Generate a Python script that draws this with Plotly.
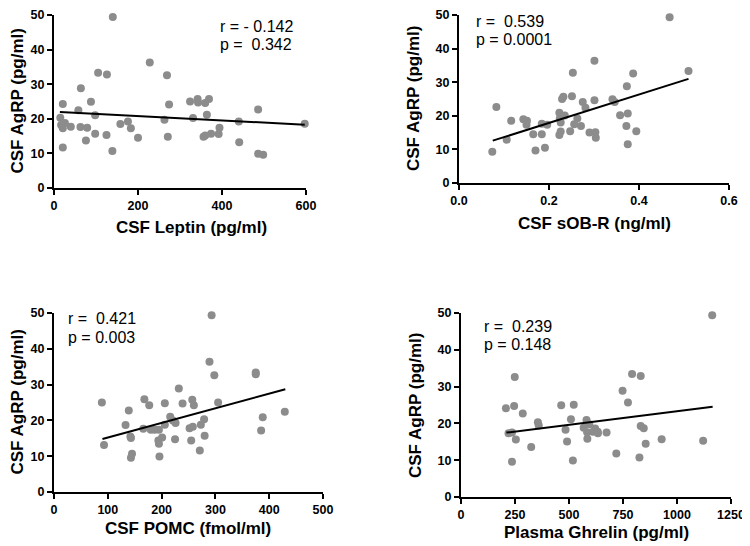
import plotly.graph_objects as go

# The page body adds an 8px margin, so the figure is drawn 8px in from the top-left
# of the window; all screen positions below are converted with OFF.
OFF = 8
W, H = 750 - OFF, 546 - OFF

# ---------------- data ----------------
leptin_x = [140, 228, 105, 126, 269, 64, 88, 21, 274, 324, 342, 343, 360, 369, 58, 486, 98, 364, 15, 331,
            263, 26, 17, 21, 40, 63, 79, 158, 176, 183, 440, 394, 374, 392, 356, 360, 98, 125, 200, 271,
            76, 441, 21, 139, 486, 498, 597]
leptin_y = [49.4, 36.3, 33.3, 32.8, 32.6, 28.8, 24.9, 24.3, 24.1, 25.0, 25.7, 24.7, 24.6, 25.7, 22.5, 22.7, 21.0, 21.2, 20.3, 20.2,
            19.7, 18.8, 18.2, 17.3, 17.7, 17.6, 17.4, 18.5, 19.2, 17.3, 19.2, 17.4, 15.7, 15.6, 14.8, 15.2, 15.7, 15.3, 14.5, 14.8,
            13.7, 13.2, 11.7, 10.7, 9.9, 9.6, 18.6]
leptin_fit_x = [14, 597]
leptin_fit_y = [22.0, 18.3]

sobr_x = [0.468, 0.301, 0.510, 0.253, 0.387, 0.373, 0.083, 0.229, 0.232, 0.251, 0.275, 0.301, 0.341, 0.346, 0.281,
          0.223, 0.235, 0.224, 0.263, 0.143, 0.151, 0.116, 0.150, 0.184, 0.196, 0.256, 0.271, 0.226, 0.358, 0.375,
          0.372, 0.165, 0.184, 0.226, 0.223, 0.247, 0.290, 0.303, 0.304, 0.394, 0.106, 0.375, 0.191, 0.170, 0.074]
sobr_y = [49.3, 36.4, 33.3, 32.8, 32.6, 28.8, 22.6, 25.0, 25.7, 25.8, 24.1, 24.6, 24.9, 24.1, 22.4,
          20.9, 20.1, 19.2, 19.2, 19.0, 18.5, 18.5, 17.3, 17.6, 17.3, 17.5, 17.0, 18.0, 20.2, 20.7,
          17.0, 14.5, 14.5, 15.3, 14.3, 15.4, 15.0, 15.1, 13.5, 15.4, 12.9, 11.5, 10.5, 9.7, 9.3]
sobr_fit_x = [0.075, 0.510]
sobr_fit_y = [12.6, 31.0]

pomc_x = [293, 289, 298, 375, 375, 232, 89, 168, 177, 206, 239, 257, 260, 305, 139, 429, 216, 388, 279, 133,
          221, 226, 206, 166, 180, 187, 195, 252, 258, 273, 385, 142, 143, 280, 201, 194, 225, 255, 195, 93,
          271, 145, 143, 196]
pomc_y = [49.4, 36.4, 32.6, 33.4, 32.9, 28.9, 25.0, 25.9, 24.2, 24.8, 24.7, 25.8, 24.2, 25.0, 22.8, 22.4, 21.0, 20.9, 20.3, 18.7,
          20.0, 19.3, 18.8, 17.7, 17.4, 17.4, 17.4, 17.8, 18.2, 18.8, 17.2, 15.5, 15.1, 15.7, 15.2, 14.4, 14.7, 14.4, 13.5, 13.1,
          11.6, 10.7, 9.6, 9.9]
pomc_fit_x = [90, 430]
pomc_fit_y = [14.8, 28.7]

ghrelin_x = [1163, 792, 832, 249, 748, 773, 208, 246, 464, 522, 286, 509, 581, 356, 360, 484, 568, 594, 621, 633,
             584, 611, 634, 674, 832, 846, 220, 236, 254, 491, 585, 929, 1121, 855, 325, 719, 826, 236, 518]
ghrelin_y = [49.4, 33.4, 32.9, 32.6, 28.9, 25.7, 24.1, 24.7, 24.9, 25.1, 22.7, 21.1, 20.9, 20.3, 19.4, 18.3, 18.8, 19.8, 18.6, 17.7,
             17.6, 17.7, 17.3, 17.5, 19.3, 18.7, 17.3, 17.5, 15.6, 15.1, 15.8, 15.7, 15.3, 14.5, 13.6, 11.8, 10.7, 9.6, 9.9]
ghrelin_fit_x = [210, 1165]
ghrelin_fit_y = [17.5, 24.5]

x_titles = ["CSF Leptin (pg/ml)", "CSF sOB-R (ng/ml)", "CSF POMC (fmol/ml)", "Plasma Ghrelin (pg/ml)"]
y_title = "CSF AgRP (pg/ml)"
stats = [("r = - 0.142", "p =\u00a0 0.342"),
         ("r =\u00a0 0.539", "p = 0.0001"),
         ("r =\u00a0 0.421", "p = 0.003"),
         ("r =\u00a0 0.239", "p = 0.148")]
x_tickvals = [[0, 200, 400, 600], [0, 0.2, 0.4, 0.6], [0, 100, 200, 300, 400, 500], [0, 250, 500, 750, 1000, 1250]]
x_ticktext = [["0", "200", "400", "600"], ["0.0", "0.2", "0.4", "0.6"],
              ["0", "100", "200", "300", "400", "500"], ["0", "250", "500", "750", "1000", "1250"]]
y_tickvals = [0, 10, 20, 30, 40, 50]
y_ticktext = ["0", "10", "20", "30", "40", "50"]
x_ranges = [[0, 600], [0, 0.6], [0, 500], [0, 1250]]

# ---------------- layout geometry (screen pixels) ----------------
# (left, right, top(50), bottom(0))
boxes = [(54, 306, 15, 188), (459, 729, 15, 183), (54, 323, 313, 492), (461, 731, 313, 497)]
stat_pos = [(218, 26, 44), (474, 22, 40), (66, 319, 337), (482, 326, 344)]
xtitle_pos = [(191, 227), (594, 224), (188, 528), (596, 532)]
ytitle_x = [17, 413, 17, 415]

datasets = [(leptin_x, leptin_y, leptin_fit_x, leptin_fit_y),
            (sobr_x, sobr_y, sobr_fit_x, sobr_fit_y),
            (pomc_x, pomc_y, pomc_fit_x, pomc_fit_y),
            (ghrelin_x, ghrelin_y, ghrelin_fit_x, ghrelin_fit_y)]


def px(x):
    return (x - OFF) / W


def py(y):
    return (H - (y - OFF)) / H


fig = go.Figure()
layout = dict(width=W, height=H, margin=dict(l=0, r=0, t=0, b=0, pad=0, autoexpand=False),
              paper_bgcolor="white", plot_bgcolor="white", showlegend=False)
annotations = []
FONT = "Liberation Sans, Arial, sans-serif"


def bold(lst):
    return ["<b>" + s + "</b>" for s in lst]


for i, (xs, ys, fx, fy) in enumerate(datasets):
    n = "" if i == 0 else str(i + 1)
    l, r, t, b = boxes[i]
    fig.add_trace(go.Scatter(x=xs, y=ys, mode="markers", xaxis="x" + n, yaxis="y" + n,
                             marker=dict(size=8, color="#8c8c8c", line=dict(width=0)),
                             cliponaxis=False))
    fig.add_trace(go.Scatter(x=fx, y=fy, mode="lines", xaxis="x" + n, yaxis="y" + n,
                             line=dict(color="black", width=2), cliponaxis=False))
    common = dict(showline=True, linecolor="black", linewidth=2, ticks="outside", ticklen=5,
                  tickwidth=1.5, tickcolor="black", showgrid=False, zeroline=False, automargin=False,
                  tickmode="array", ticklabeloverflow="allow",
                  tickfont=dict(family=FONT, size=12.5, color="black"))
    layout["xaxis" + n] = dict(domain=[px(l), px(r)], range=x_ranges[i], tickvals=x_tickvals[i],
                               ticktext=bold(x_ticktext[i]), anchor="y" + n, **common)
    layout["yaxis" + n] = dict(domain=[py(b), py(t)], range=[0, 50], tickvals=y_tickvals,
                               ticktext=bold(y_ticktext), anchor="x" + n, **common)
    sx, sy1, sy2 = stat_pos[i]
    for txt, yy in ((stats[i][0], sy1), (stats[i][1], sy2)):
        annotations.append(dict(text=txt, x=px(sx), y=py(yy), xref="paper", yref="paper",
                                xanchor="left", yanchor="middle", showarrow=False,
                                font=dict(family=FONT, size=16, color="black")))
    tx, ty = xtitle_pos[i]
    annotations.append(dict(text="<b>" + x_titles[i] + "</b>", x=px(tx), y=py(ty),
                            xref="paper", yref="paper", xanchor="center", yanchor="middle",
                            showarrow=False, font=dict(family=FONT, size=17, color="black")))
    annotations.append(dict(text="<b>" + y_title + "</b>", x=px(ytitle_x[i]), y=py((t + b) / 2),
                            xref="paper", yref="paper", xanchor="center", yanchor="middle",
                            textangle=-90, showarrow=False, font=dict(family=FONT, size=17, color="black")))

layout["annotations"] = annotations
fig.update_layout(**layout)
fig.write_html("out.html")
